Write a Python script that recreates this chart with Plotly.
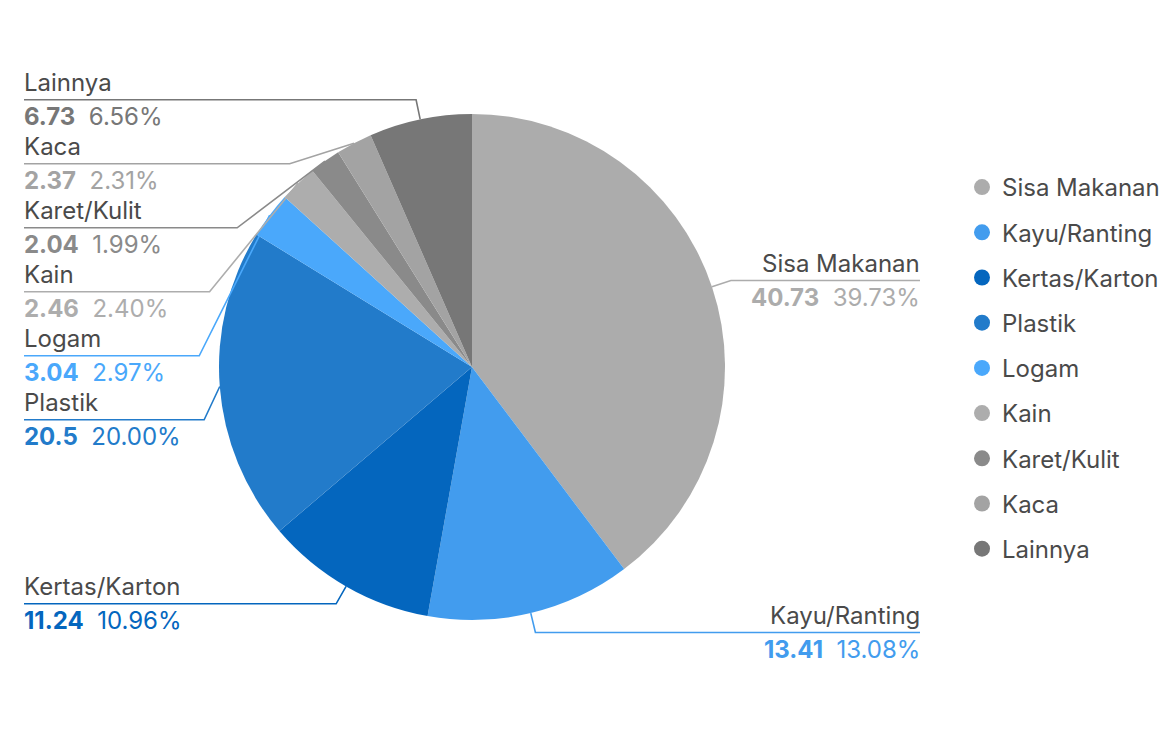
import math
import plotly.graph_objects as go

CATEGORIES = ["Sisa Makanan", "Kayu/Ranting", "Kertas/Karton", "Plastik", "Logam",
              "Kain", "Karet/Kulit", "Kaca", "Lainnya"]
VALUES = [40.73, 13.41, 11.24, 20.5, 3.04, 2.46, 2.04, 2.37, 6.73]
COLORS = ["#acacac", "#429cee", "#0466be", "#227bca", "#4aa8fb",
          "#adadad", "#8a8a8a", "#a3a3a3", "#777777"]

# page body has an 8px margin, so the figure is a bit smaller than the window
PAGE_MARGIN = 8
W, H = 1167 - PAGE_MARGIN, 736 - 2 * PAGE_MARGIN
# pie box in window pixels (left, top, right, bottom)
PIE_BOX = (219, 114, 725, 620)
FONT = "Inter"
FONT_SIZE = 24
NAME_COLOR = "#4a4a4a"

cx = (PIE_BOX[0] + PIE_BOX[2]) / 2
cy = (PIE_BOX[1] + PIE_BOX[3]) / 2
R = (PIE_BOX[2] - PIE_BOX[0]) / 2
R_ELBOW = R + 20
GAP = 64
LEFT_X, RIGHT_X = 24, 920


def px(x):
    return (x - PAGE_MARGIN) / W


def py(y):
    return 1 - (y - PAGE_MARGIN) / H


total = sum(VALUES)
labels = []
cum = 0
for name, v, c in zip(CATEGORIES, VALUES, COLORS):
    mid = (cum + v / 2) / total * 2 * math.pi
    cum += v
    edge = (cx + R * math.sin(mid), cy - R * math.cos(mid))
    nat_y = cy - R_ELBOW * math.cos(mid)
    side = "right" if math.sin(mid) > 0 else "left"
    labels.append(dict(name=name, v=v, c=c, edge=edge, y=nat_y, side=side,
                       pct=v / total * 100))

# stack labels on each side so they do not overlap
for side in ("left", "right"):
    items = sorted([l for l in labels if l["side"] == side], key=lambda l: l["y"])
    prev = None
    for l in items:
        if prev is not None and l["y"] < prev + GAP:
            l["y"] = prev + GAP
        prev = l["y"]

shapes = []
annotations = []
for l in labels:
    dy = min(abs(l["y"] - cy), R_ELBOW)
    dx = math.sqrt(R_ELBOW ** 2 - dy ** 2)
    if l["side"] == "left":
        ex, end_x, text_x, anchor = cx - dx, LEFT_X, LEFT_X - 2, "left"
    else:
        ex, end_x, text_x, anchor = cx + dx, RIGHT_X, RIGHT_X + 2, "right"
    ly = l["y"]
    path = "M {},{} L {},{} L {},{}".format(px(l["edge"][0]), py(l["edge"][1]),
                                           px(ex), py(ly), px(end_x), py(ly))
    shapes.append(dict(type="path", xref="paper", yref="paper", path=path,
                       line=dict(color=l["c"], width=1.6)))
    annotations.append(dict(x=px(text_x), y=py(ly - 17), xref="paper", yref="paper",
                            text=l["name"], showarrow=False, xanchor=anchor,
                            yanchor="middle",
                            font=dict(family=FONT, size=FONT_SIZE, color=NAME_COLOR)))
    annotations.append(dict(x=px(text_x), y=py(ly + 17), xref="paper", yref="paper",
                            text="<b>{}</b>\u00a0 {:.2f}%".format(l["v"], l["pct"]),
                            showarrow=False, xanchor=anchor, yanchor="middle",
                            font=dict(family=FONT, size=FONT_SIZE, color=l["c"])))

fig = go.Figure()

fig.add_trace(go.Pie(
    labels=CATEGORIES, values=VALUES, sort=False, direction="clockwise",
    marker=dict(colors=COLORS, line=dict(width=0)),
    textinfo="none", showlegend=False,
    domain=dict(x=[px(PIE_BOX[0]), px(PIE_BOX[2])], y=[py(PIE_BOX[3]), py(PIE_BOX[1])]),
))

# legend with round markers
for i, (name, c) in enumerate(zip(CATEGORIES, COLORS)):
    fig.add_trace(go.Scatter(x=[None], y=[None], mode="markers", name=name,
                             legendgroup=str(i),
                             marker=dict(symbol="circle", size=20, color=c)))

fig.update_layout(
    width=W, height=H,
    margin=dict(l=0, r=0, t=0, b=0),
    paper_bgcolor="white", plot_bgcolor="white",
    font=dict(family=FONT, color=NAME_COLOR),
    xaxis=dict(visible=False), yaxis=dict(visible=False),
    legend=dict(x=px(962), y=py(165), xanchor="left", yanchor="top",
                font=dict(family=FONT, size=FONT_SIZE, color=NAME_COLOR),
                tracegroupgap=11, itemclick=False),
    shapes=shapes,
    annotations=annotations,
)

fig.write_html("out.html")
